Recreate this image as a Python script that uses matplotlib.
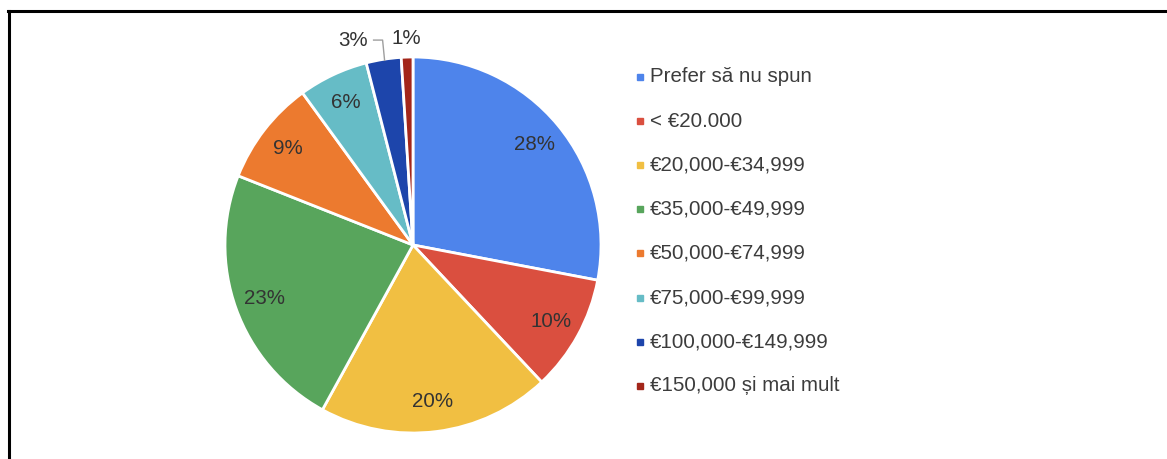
#!/usr/bin/env python3
"""
Income distribution pie chart (Google Sheets style)
"""

import matplotlib.pyplot as plt
from matplotlib.lines import Line2D
import numpy as np

# Data
labels = ['Prefer să nu spun', '< €20.000', '€20,000-€34,999', '€35,000-€49,999',
          '€50,000-€74,999', '€75,000-€99,999', '€100,000-€149,999',
          '€150,000 și mai mult']
values = [28, 10, 20, 23, 9, 6, 3, 1]
colors = ['#4e84eb', '#da4f3f', '#f1bf42', '#58a55c',
          '#ec7a2f', '#66bcc6', '#1d45ab', '#a3261a']

W, H = 1167, 459
FONT = 'Liberation Sans'
TEXT_COLOR = '#333333'
FS = 14.8

fig = plt.figure(figsize=(W / 100, H / 100), dpi=100, facecolor='white')
ax = fig.add_axes([0, 0, 1, 1])

# Pie in pixel coordinates (y measured from bottom)
cx, cy, radius = 413, H - 245, 188
wedges, _ = ax.pie(values, colors=colors, startangle=90, counterclock=False,
                   center=(cx, cy), radius=radius,
                   wedgeprops=dict(edgecolor='white', linewidth=2))
ax.set_xlim(0, W)
ax.set_ylim(0, H)
ax.set_aspect('equal')
ax.axis('off')

# Percent labels
for w, v in zip(wedges, values):
    ang = np.deg2rad((w.theta1 + w.theta2) / 2)
    txt = f'{v}%'
    if v >= 5:
        r = radius * 0.84
        ax.text(cx + r * np.cos(ang), cy + r * np.sin(ang), txt,
                ha='center', va='center', fontsize=FS, family=FONT,
                color=TEXT_COLOR)
    elif v == 1:
        r = radius * 1.10
        ax.text(cx + r * np.cos(ang), cy + r * np.sin(ang), txt,
                ha='center', va='center', fontsize=FS, family=FONT,
                color=TEXT_COLOR)
    else:
        # outside label with leader line
        ex = cx + radius * np.cos(ang)
        ey = cy + radius * np.sin(ang)
        ty = cy + radius * 1.09
        ax.plot([ex + 1, ex - 1, ex - 10], [ey - 1, ty, ty],
                color='#9e9e9e', lw=1)
        ax.text(ex - 16, ty, txt, ha='right', va='center', fontsize=FS,
                family=FONT, color=TEXT_COLOR)

# Legend
leg_x, leg_y0, leg_step = 640, H - 77, 44.1
for i, (lab, col) in enumerate(zip(labels, colors)):
    y = leg_y0 - i * leg_step
    ax.plot(leg_x, y, marker='s', markersize=5, color=col, linestyle='none')
    ax.text(leg_x + 10, y, lab, ha='left', va='center', fontsize=FS,
            family=FONT, color='#3c3c3c')

# Frame lines (top and left)
fig.add_artist(Line2D([8 / W, 1], [1 - 11 / H, 1 - 11 / H],
                      color='black', lw=2.2, transform=fig.transFigure))
fig.add_artist(Line2D([9 / W, 9 / W], [0, 1 - 11 / H],
                      color='black', lw=2.2, transform=fig.transFigure))

fig.savefig('out.png', dpi=100, facecolor='white')
